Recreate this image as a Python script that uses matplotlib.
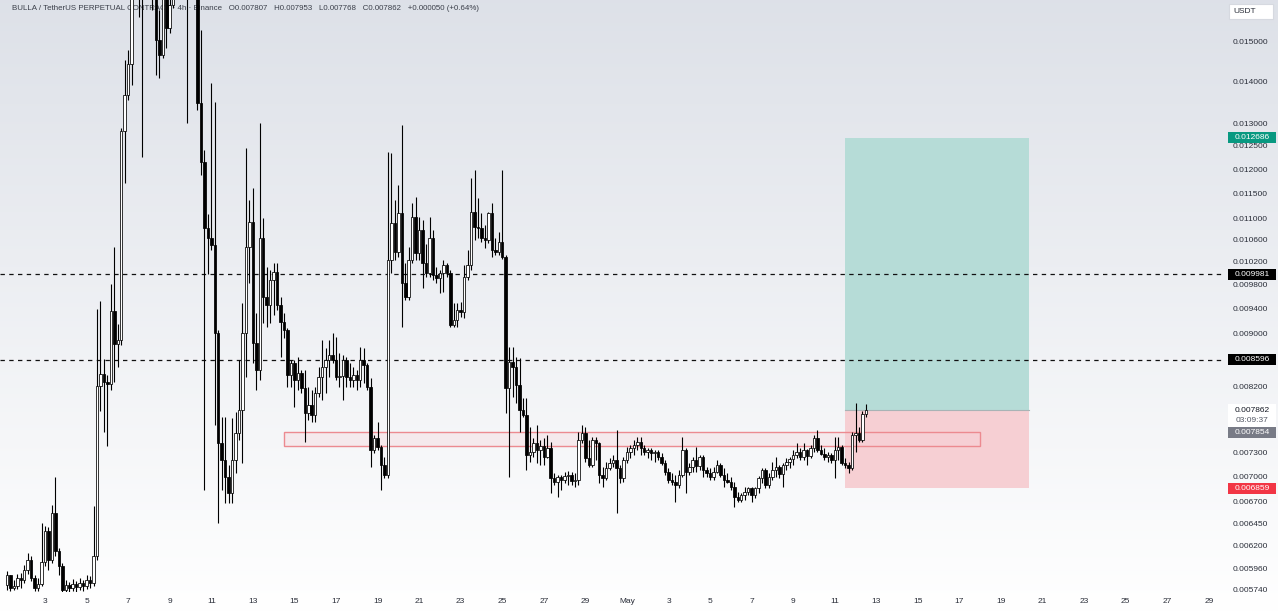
import numpy as np
import matplotlib
matplotlib.use("Agg")
import matplotlib.pyplot as plt
from matplotlib.patches import Rectangle
from matplotlib.transforms import IdentityTransform

plt.rcParams['font.family'] = ['Liberation Sans', 'DejaVu Sans']

# ---------------- data (prices in thousandths of USDT) ----------------
PRICE_UNIT = 1e-3
START = np.datetime64('2025-04-01T04:00')
BAR_HOURS = 4

first_open = 5.788
closes = [5.891, 5.758, 5.778, 5.860, 5.839, 5.943, 6.048, 5.860, 5.758, 5.798,
          6.027, 6.363, 6.048, 6.567, 6.144, 5.985, 5.738, 5.788, 5.758, 5.798,
          5.768, 5.808, 5.778, 5.839, 5.808, 6.091, 8.207, 8.381, 8.264, 8.235,
          9.360, 8.834, 8.896, 12.83, 13.67, 14.43, 16.72, 17.63, 17.02, 17.32,
          18.26, 17.94, 16.43, 15.05, 14.66, 16.43, 15.37, 16.01, 17.02, 17.94,
          17.32, 16.72, 17.63, 17.02, 16.43, 13.48, 12.16, 10.83, 10.64, 10.51,
          9.005, 7.426, 7.207, 6.996, 6.802, 7.207, 7.557, 7.868, 9.005, 10.47,
          10.94, 8.849, 8.440, 10.64, 9.592, 9.459, 9.883, 10.02, 9.459, 9.181,
          9.053, 8.366, 8.544, 8.293, 8.396, 8.178, 7.827, 7.937, 7.799, 8.106,
          8.337, 8.484, 8.589, 8.665, 8.589, 8.337, 8.352, 8.589, 8.337, 8.293,
          8.366, 8.293, 8.589, 8.514, 8.192, 7.335, 7.491, 7.374, 7.144, 7.020,
          10.24, 10.92, 10.38, 11.12, 9.832, 9.592, 10.24, 11.04, 10.36, 10.79,
          10.18, 10.00, 10.64, 9.970, 9.918, 10.00, 10.15, 10.00, 9.133, 9.213,
          9.376, 9.343, 9.935, 10.15, 11.13, 10.85, 10.83, 10.64, 10.60, 11.12,
          10.42, 10.38, 10.56, 10.28, 8.178, 8.559, 8.484, 8.221, 7.868, 7.799,
          7.271, 7.310, 7.426, 7.335, 7.387, 7.245, 7.361, 6.983, 6.935, 6.996,
          6.959, 7.008, 7.020, 6.947, 6.959, 7.465, 7.557, 7.233, 7.144, 7.465,
          7.426, 7.020, 6.983, 7.107, 7.169, 7.207, 7.107, 6.983, 7.207, 7.310,
          7.361, 7.400, 7.439, 7.361, 7.310, 7.335, 7.297, 7.310, 7.245, 7.169,
          7.057, 6.959, 6.935, 6.898, 7.020, 7.335, 7.057, 7.119, 7.207, 7.132,
          7.245, 7.082, 7.045, 6.996, 7.057, 7.144, 7.020, 6.959, 6.935, 6.874,
          6.755, 6.719, 6.778, 6.814, 6.862, 6.778, 6.862, 6.983, 7.082, 6.898,
          6.996, 7.082, 7.119, 7.032, 7.144, 7.182, 7.220, 7.271, 7.310, 7.245,
          7.335, 7.258, 7.361, 7.491, 7.335, 7.284, 7.245, 7.271, 7.207, 7.335,
          7.374, 7.169, 7.144, 7.107, 7.531, 7.557, 7.465, 7.807, 7.862]
highs = [5.933, 5.881, 5.839, 5.902, 5.912, 5.995, 6.123, 6.091, 5.891, 5.860,
         6.453, 6.419, 6.408, 6.660, 6.996, 6.177, 6.016, 5.839, 5.818, 5.849,
         5.829, 5.860, 5.839, 5.891, 5.881, 6.648, 9.392, 9.525, 8.604, 8.366,
         9.814, 10.47, 9.149, 12.90, 14.53, 14.79, 17.94, 18.91, 19.24, 18.58,
         19.93, 20.28, 18.91, 17.02, 15.87, 17.63, 17.32, 17.02, 18.26, 19.24,
         19.58, 18.58, 18.26, 18.91, 17.94, 17.02, 15.32, 12.41, 11.10, 13.96,
         13.50, 9.053, 7.772, 7.772, 7.144, 7.758, 7.841, 8.589, 9.492, 12.45,
         11.37, 11.61, 9.327, 13.01, 11.02, 10.11, 10.06, 10.18, 10.18, 9.592,
         9.327, 9.085, 8.589, 8.589, 8.635, 8.440, 8.440, 8.192, 8.149, 8.192,
         8.484, 8.896, 8.772, 8.896, 9.005, 8.943, 8.695, 8.665, 8.635, 8.544,
         8.484, 8.440, 8.787, 8.772, 8.544, 8.322, 7.531, 7.704, 7.400, 7.245,
         12.37, 12.35, 11.37, 11.67, 12.97, 10.18, 10.47, 11.31, 11.43, 11.04,
         10.98, 10.53, 11.04, 10.79, 10.11, 10.06, 10.24, 10.18, 10.06, 9.492,
         9.492, 9.509, 10.15, 10.42, 11.82, 11.99, 11.41, 11.12, 10.88, 11.13,
         11.31, 10.64, 10.75, 11.99, 10.32, 8.787, 8.787, 8.635, 8.620, 8.036,
         8.036, 7.637, 7.491, 7.664, 7.465, 7.491, 7.531, 7.439, 7.045, 7.020,
         7.020, 7.057, 7.070, 7.057, 7.045, 7.571, 7.664, 7.637, 7.465, 7.505,
         7.505, 7.439, 7.119, 7.182, 7.233, 7.271, 7.597, 7.144, 7.245, 7.374,
         7.400, 7.465, 7.505, 7.505, 7.400, 7.361, 7.361, 7.335, 7.335, 7.297,
         7.207, 7.107, 7.045, 7.020, 7.082, 7.505, 7.361, 7.169, 7.245, 7.374,
         7.271, 7.271, 7.119, 7.107, 7.119, 7.207, 7.169, 7.107, 7.045, 6.996,
         6.935, 6.814, 6.802, 6.874, 6.874, 6.874, 6.874, 7.008, 7.107, 7.107,
         7.045, 7.182, 7.245, 7.144, 7.169, 7.233, 7.245, 7.335, 7.426, 7.361,
         7.426, 7.348, 7.400, 7.531, 7.597, 7.400, 7.361, 7.310, 7.297, 7.505,
         7.505, 7.400, 7.233, 7.182, 7.571, 7.965, 7.637, 7.850, 7.953]
lows = [5.738, 5.728, 5.738, 5.748, 5.758, 5.808, 5.902, 5.829, 5.728, 5.728,
        5.778, 5.985, 5.943, 6.016, 6.091, 5.891, 5.718, 5.718, 5.718, 5.728,
        5.718, 5.738, 5.728, 5.748, 5.758, 5.778, 6.048, 7.854, 7.571, 7.387,
        8.149, 8.264, 8.484, 8.818, 11.72, 13.55, 13.91, 16.29, 15.67, 12.26,
        16.43, 16.72, 15.87, 14.16, 14.08, 14.58, 14.84, 15.24, 15.93, 16.72,
        17.02, 16.43, 13.01, 16.58, 16.29, 13.31, 11.88, 6.838, 9.990, 10.42,
        7.664, 6.453, 6.838, 6.684, 6.684, 6.684, 7.045, 7.465, 7.169, 8.337,
        9.832, 8.544, 8.149, 8.293, 9.165, 9.101, 9.165, 9.294, 9.376, 8.635,
        8.927, 8.192, 8.192, 7.909, 8.149, 8.106, 7.439, 7.731, 7.704, 7.704,
        8.050, 8.007, 8.106, 8.337, 8.544, 8.293, 8.192, 8.007, 8.192, 8.192,
        8.192, 8.149, 8.192, 8.250, 8.149, 7.119, 7.297, 7.335, 6.838, 6.983,
        6.983, 10.00, 10.24, 10.29, 9.101, 9.542, 9.542, 10.18, 10.24, 10.24,
        9.745, 9.935, 9.935, 9.883, 9.832, 9.660, 9.677, 9.935, 9.101, 9.101,
        9.101, 9.262, 9.246, 9.883, 10.06, 10.60, 10.64, 10.56, 10.45, 10.54,
        10.28, 10.32, 10.32, 10.26, 7.827, 6.996, 8.050, 7.965, 7.571, 7.772,
        7.082, 7.182, 7.245, 7.169, 7.144, 7.144, 7.233, 6.802, 6.898, 6.755,
        6.838, 6.922, 6.898, 6.898, 6.874, 6.898, 7.426, 7.182, 7.119, 7.119,
        7.207, 6.922, 6.874, 6.959, 7.082, 7.119, 6.567, 6.922, 6.935, 7.169,
        7.233, 7.271, 7.335, 7.271, 7.271, 7.233, 7.207, 7.182, 7.207, 7.144,
        7.020, 6.922, 6.898, 6.695, 6.862, 6.996, 6.802, 7.020, 7.057, 7.057,
        7.082, 6.996, 6.996, 6.959, 6.959, 7.045, 6.996, 6.874, 6.922, 6.838,
        6.637, 6.695, 6.695, 6.719, 6.778, 6.695, 6.743, 6.802, 6.922, 6.862,
        6.862, 6.959, 6.996, 6.983, 6.874, 7.082, 7.107, 7.144, 7.233, 7.207,
        7.207, 7.144, 7.233, 7.310, 7.310, 7.271, 7.207, 7.182, 7.169, 6.983,
        7.207, 7.144, 7.107, 7.045, 7.082, 7.310, 7.439, 7.439, 7.768]

tick_dates = ['2025-04-03', '2025-04-05', '2025-04-07', '2025-04-09', '2025-04-11',
              '2025-04-13', '2025-04-15', '2025-04-17', '2025-04-19', '2025-04-21',
              '2025-04-23', '2025-04-25', '2025-04-27', '2025-04-29', '2025-05-01',
              '2025-05-03', '2025-05-05', '2025-05-07', '2025-05-09', '2025-05-11',
              '2025-05-13', '2025-05-15', '2025-05-17', '2025-05-19', '2025-05-21',
              '2025-05-23', '2025-05-25', '2025-05-27', '2025-05-29']
tick_labels = ['3', '5', '7', '9', '11', '13', '15', '17', '19', '21', '23', '25', '27', '29',
               'May', '3', '5', '7', '9', '11', '13', '15', '17', '19', '21', '23', '25', '27', '29']

y_ticks = [0.015, 0.014, 0.013, 0.0125, 0.012, 0.0115, 0.011, 0.0106, 0.0102, 0.0098,
           0.0094, 0.009, 0.0082, 0.0073, 0.0070, 0.0067, 0.00645, 0.0062, 0.00596, 0.00574]

entry_price = 0.007862
target_price = 0.012686
stop_price = 0.006859
level_lines = [0.009981, 0.008596]
zone_low, zone_high = 0.00738, 0.00757
position_span = ('2025-05-11T12:00', '2025-05-20T08:00')
zone_span = ('2025-04-14T12:00', '2025-05-18T00:00')
last_close_label = '0.007862'
countdown_label = '03:09:37'
prev_label = '0.007854'
title = ("BULLA / TetherUS PERPETUAL CONTRACT \u00b7 4h \u00b7 Binance   O0.007807   H0.007953   "
         "L0.007768   C0.007862   +0.000050 (+0.64%)")

# ---------------- derived arrays ----------------
c = np.array(closes) * PRICE_UNIT
o = np.array([first_open] + closes[:-1]) * PRICE_UNIT
h = np.maximum(np.array(highs) * PRICE_UNIT, np.maximum(o, c))
l = np.minimum(np.array(lows) * PRICE_UNIT, np.minimum(o, c))
n = len(c)
x = np.arange(n)


def bar_pos(ts):
    return (np.datetime64(ts, 'm') - START) / np.timedelta64(BAR_HOURS * 60, 'm')


W, H = 1278, 612
fig = plt.figure(figsize=(W / 100, H / 100), dpi=100)

# background gradient
bg = fig.add_axes([0, 0, 1, 1], zorder=-10)
g = np.linspace(0, 1, 300)[:, None, None]
top = np.array([0.868, 0.882, 0.910])
bot = np.array([1.0, 1.0, 1.0])
img = top * (1 - g) + bot * g
img = np.repeat(img, 2, axis=1)
bg.imshow(img, aspect='auto', extent=[0, 1, 0, 1], origin='upper')
bg.axis('off')

ax = fig.add_axes([0, 20 / H, 1222 / W, 592 / H])
ax.set_facecolor('none')
for s in ax.spines.values():
    s.set_visible(False)
ax.set_yscale('log')
ax.set_xlim(-2.0, 350.8)
ax.set_ylim(0.005718, 0.016146)

# position boxes
px0, px1 = bar_pos(position_span[0]), bar_pos(position_span[1])
ax.fill_between([px0, px1], entry_price, target_price, color='#b6dcd7', lw=0, zorder=1)
ax.fill_between([px0, px1], stop_price, entry_price, color='#f6cfd3', lw=0, zorder=1)
ax.plot([px0, px1], [entry_price, entry_price], color='#a9b3b5', lw=0.8, zorder=1.2)

# zone rectangle
zx0, zx1 = bar_pos(zone_span[0]), bar_pos(zone_span[1])
ax.add_patch(Rectangle((zx0, zone_low), zx1 - zx0, zone_high - zone_low,
                       facecolor=(0.97, 0.82, 0.84, 0.35), edgecolor='#ec8a90', lw=1.0, zorder=1.5))

# dashed levels
for lv in level_lines:
    ax.axhline(lv, color='#111111', lw=0.9, ls=(0, (3.5, 3.5)), zorder=2)

# candles
up = c >= o
ax.vlines(x, l, h, color='#000000', lw=0.8, zorder=3)
ax.bar(x[up], (c - o)[up], bottom=o[up], width=0.72, color='white', edgecolor='black',
       linewidth=0.55, zorder=4)
ax.bar(x[~up], (o - c)[~up], bottom=c[~up], width=0.72, color='black', edgecolor='black',
       linewidth=0.55, zorder=4)

# axes ticks
ax.set_xticks([bar_pos(d) for d in tick_dates])
ax.set_xticklabels(tick_labels)
ax.set_yticks(y_ticks)
ax.set_yticklabels(['%.6f' % v for v in y_ticks])
ax.yaxis.set_minor_locator(matplotlib.ticker.NullLocator())
ax.tick_params(axis='y', which='both', left=False, labelleft=False, right=False, labelright=True,
               length=0, pad=7.5, labelsize=6, labelcolor='#2a2e39')
ax.tick_params(axis='x', length=0, pad=4.3, labelsize=6, labelcolor='#2a2e39')

# title legend
ax.text(12, H - 8, title, transform=IdentityTransform(), fontsize=5.7, color='#3b3f4a',
        va='center', ha='left', zorder=1, clip_on=False)

# right-hand price labels
def ypix(p):
    return ax.transData.transform((0, p))[1]


def price_box(yd, text, fc, tc, hgt=11, ec='none'):
    fig.add_artist(Rectangle((1228, yd - hgt / 2), 48, hgt, transform=IdentityTransform(),
                             facecolor=fc, edgecolor=ec, lw=0.6, zorder=5))
    fig.text(1252, yd, text, transform=IdentityTransform(), ha='center', va='center',
             color=tc, fontsize=6, zorder=6)


price_box(ypix(target_price), '%.6f' % target_price, '#089981', 'white')
price_box(ypix(level_lines[0]), '%.6f' % level_lines[0], '#000000', 'white')
price_box(ypix(level_lines[1]), '%.6f' % level_lines[1], '#000000', 'white')
price_box(ypix(stop_price), '%.6f' % stop_price, '#f23645', 'white')

ye = ypix(entry_price)
fig.add_artist(Rectangle((1228, ye - 17), 48, 23, transform=IdentityTransform(),
                         facecolor='white', edgecolor='none', zorder=5))
fig.text(1252, ye, last_close_label, transform=IdentityTransform(), ha='center', va='center',
         color='#131722', fontsize=6, zorder=6)
fig.text(1252, ye - 10, countdown_label, transform=IdentityTransform(), ha='center', va='center',
         color='#555a66', fontsize=6, zorder=6)
price_box(ye - 22.5, prev_label, '#787b86', 'white')

# currency box
fig.add_artist(Rectangle((1229, H - 19), 44, 15, transform=IdentityTransform(),
                         facecolor='white', edgecolor='#d6d9e0', lw=0.8, zorder=5))
fig.text(1245, H - 11.5, 'USDT', transform=IdentityTransform(), ha='center', va='center',
         color='#2a2e39', fontsize=6, zorder=6)

fig.savefig('out.png', dpi=100)
